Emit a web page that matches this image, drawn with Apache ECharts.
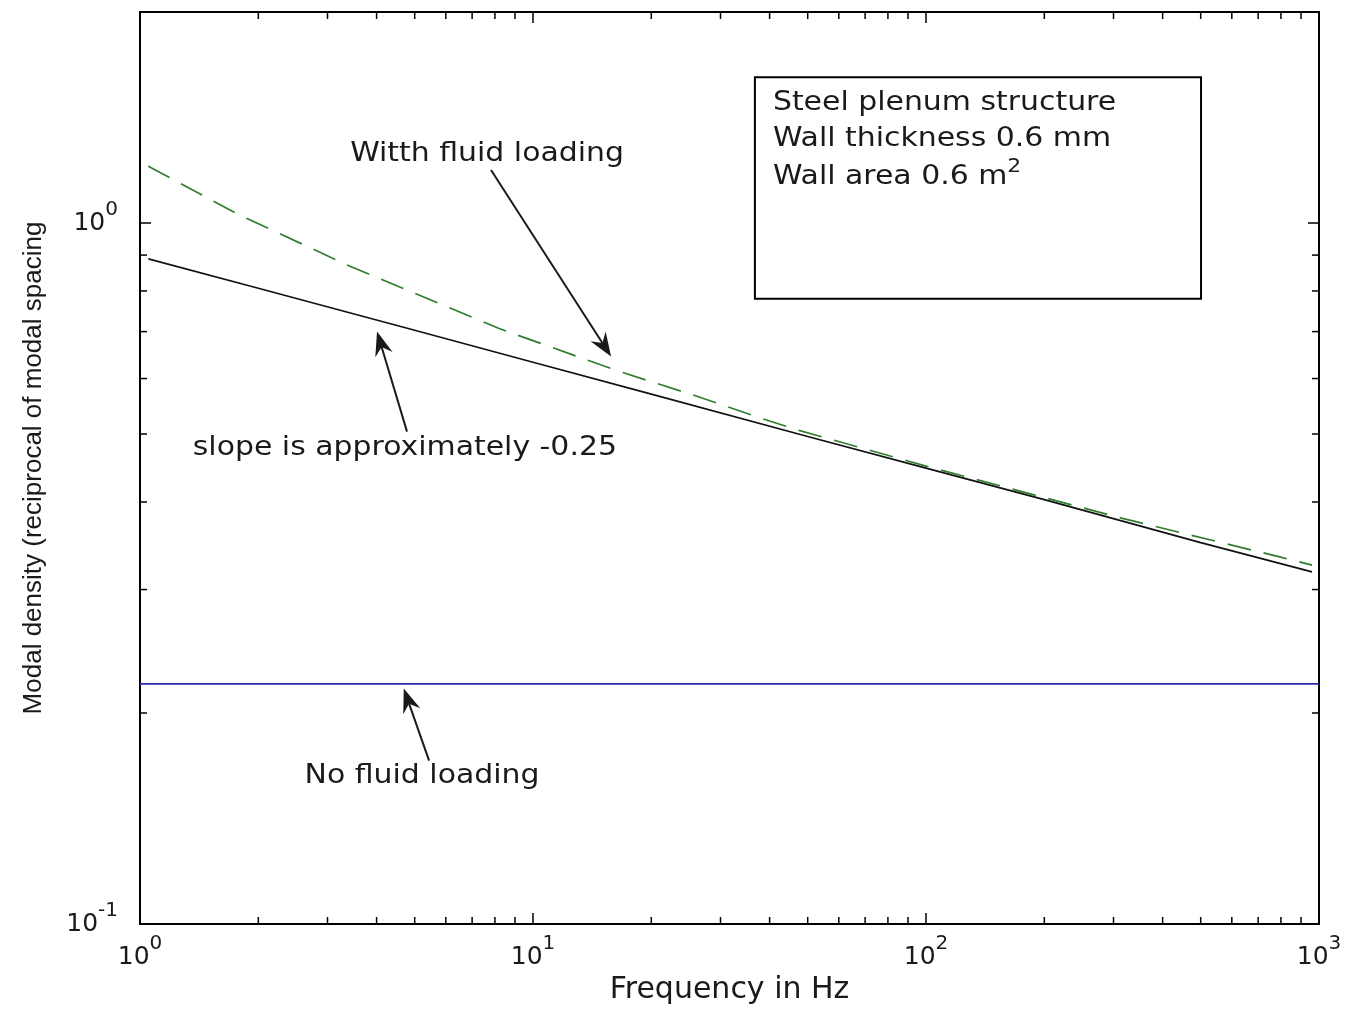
<!DOCTYPE html>
<html>
<head>
<meta charset="utf-8">
<script src="https://cdn.jsdelivr.net/npm/echarts@6/dist/echarts.min.js"></script>
<style>
  html, body { margin: 0; padding: 0; background: #fff; }
  #chart { width: 1351px; height: 1013px; }
</style>
</head>
<body>
<div id="chart"></div>
<script>
// Modal density of a steel plenum wall, log-log.
// Frequencies in Hz, densities in modes per Hz.
const freqNoFluid = [1, 1000];
const densityNoFluid = [0.22, 0.22];

const freqSlope = [1.05, 2, 5, 10, 20, 50, 100, 200, 500, 960];
const densitySlope = [0.889, 0.807, 0.703, 0.633, 0.570, 0.496, 0.447, 0.403, 0.350, 0.318];

const freqFluid = [1.05, 1.77, 3.4, 8.2, 16.6, 25.4, 38.3, 47.5, 100, 316, 794, 960];
const densityFluid = [1.205, 1.030, 0.869, 0.707, 0.614, 0.569, 0.526, 0.506, 0.450, 0.379, 0.334, 0.325];

// Decade tick labels: value and exponent text.
const xDecades = [1, 10, 100, 1000];
const xExponents = ['0', '1', '2', '3'];
const yDecades = [0.1, 1];
const yExponents = ['-1', '0'];

const boxLines = ['Steel plenum structure', 'Wall thickness 0.6 mm', 'Wall area 0.6 m'];
const boxSup = '2';

// Text annotations with arrows, placed in data coordinates.
const notes = [
  { text: 'Witth fluid loading', at: [7.64, 1.254], tail: [7.82, 1.19], tip: [15.8, 0.645] },
  { text: 'slope is approximately -0.25', at: [4.72, 0.477], tail: [4.78, 0.504], tip: [4.01, 0.700] },
  { text: 'No fluid loading', at: [5.22, 0.1624], tail: [5.44, 0.171], tip: [4.69, 0.2167] }
];
const boxCorners = [[36.7, 1.614], [501, 0.78]];

const INK = '#1a1a1a';
const FONT = 'DejaVu Sans';

function pairs(xs, ys) { return xs.map((x, i) => [x, ys[i]]); }

function decadeLabel(decades, exps) {
  return function (v) {
    for (let i = 0; i < decades.length; i++) {
      if (Math.abs(Math.log10(v) - Math.log10(decades[i])) < 1e-6) {
        return '{b|10}{s|' + exps[i] + '}';
      }
    }
    return '';
  };
}

const labelRich = {
  b: { fontSize: 25, lineHeight: 46, fontFamily: FONT, color: INK },
  s: { fontSize: 20, lineHeight: 20, verticalAlign: 'top', fontFamily: FONT, color: INK }
};

const tickStyle = { show: true, inside: true, length: 11, lineStyle: { color: '#000', width: 1.5 } };

const chart = echarts.init(document.getElementById('chart'), null, { renderer: 'canvas' });

chart.setOption({
  animation: false,
  backgroundColor: '#fff',
  grid: { left: 140, right: 32, top: 12, bottom: 89, show: true, borderColor: '#000', borderWidth: 2, backgroundColor: '#fff' },
  xAxis: [
    {
      type: 'log', logBase: 10, min: 1, max: 1000, position: 'bottom',
      name: 'Frequency in Hz', nameLocation: 'middle', nameGap: 51,
      nameTextStyle: { fontSize: 30, fontFamily: FONT, color: INK },
      axisLine: { show: false }, axisTick: tickStyle, splitLine: { show: false },
      axisLabel: { formatter: decadeLabel(xDecades, xExponents), rich: labelRich, margin: 10 }
    },
    {
      type: 'log', logBase: 10, min: 1, max: 1000, position: 'top',
      axisLine: { show: false }, axisTick: tickStyle, splitLine: { show: false }, axisLabel: { show: false }
    }
  ],
  yAxis: [
    {
      type: 'log', logBase: 10, min: 0.1, max: 2, position: 'left',
      name: 'Modal density (reciprocal of modal spacing', nameLocation: 'middle', nameGap: 93,
      nameTextStyle: { fontSize: 26, fontFamily: 'Liberation Sans', color: INK },
      axisLine: { show: false }, axisTick: tickStyle, splitLine: { show: false },
      axisLabel: { formatter: decadeLabel(yDecades, yExponents), rich: labelRich, margin: 22 }
    },
    {
      type: 'log', logBase: 10, min: 0.1, max: 2, position: 'right',
      axisLine: { show: false }, axisTick: tickStyle, splitLine: { show: false }, axisLabel: { show: false }
    }
  ],
  series: [
    {
      name: 'No fluid loading', type: 'line', xAxisIndex: 0, yAxisIndex: 0,
      data: pairs(freqNoFluid, densityNoFluid), symbol: 'none',
      lineStyle: { color: '#2b2ba8', width: 1.8 }
    },
    {
      name: 'In vacuo', type: 'line', xAxisIndex: 0, yAxisIndex: 0,
      data: pairs(freqSlope, densitySlope), symbol: 'none',
      lineStyle: { color: '#111', width: 1.7 }
    },
    {
      name: 'With fluid loading', type: 'line', xAxisIndex: 0, yAxisIndex: 0,
      data: pairs(freqFluid, densityFluid), symbol: 'none',
      lineStyle: { color: '#2f7d2f', width: 1.7, type: [24, 13] }
    }
  ]
});

// Minor ticks, annotations and the info box, positioned through the axes.
function px(pt) { return chart.convertToPixel({ gridIndex: 0 }, pt); }

const gfx = [];
const plotLeft = px([1, 1])[0], plotRight = px([1000, 1])[0];
const plotBottom = px([1, 0.1])[1], plotTop = px([1, 2])[1];
const MINOR = 7;
const minorLine = { stroke: '#000', lineWidth: 1.5 };

[1, 10, 100].forEach(d => {
  for (let m = 2; m <= 9; m++) {
    const x = px([d * m, 1])[0];
    gfx.push({ type: 'line', shape: { x1: x, y1: plotBottom, x2: x, y2: plotBottom - MINOR }, style: minorLine, z: 50 });
    gfx.push({ type: 'line', shape: { x1: x, y1: plotTop, x2: x, y2: plotTop + MINOR }, style: minorLine, z: 50 });
  }
});
[0.1].forEach(d => {
  for (let m = 2; m <= 9; m++) {
    const y = px([1, d * m])[1];
    gfx.push({ type: 'line', shape: { x1: plotLeft, y1: y, x2: plotLeft + MINOR, y2: y }, style: minorLine, z: 50 });
    gfx.push({ type: 'line', shape: { x1: plotRight, y1: y, x2: plotRight - MINOR, y2: y }, style: minorLine, z: 50 });
  }
});

function noteText(text, x, y, align) {
  return {
    type: 'text', x: x, y: y, scaleX: 1.15, z: 60,
    style: { text: text, x: 0, y: 0, align: align, verticalAlign: 'middle', fontSize: 26, fontFamily: FONT, fill: INK }
  };
}

function arrow(tail, tip) {
  const a = px(tail), b = px(tip);
  const dx = b[0] - a[0], dy = b[1] - a[1];
  const len = Math.hypot(dx, dy);
  const ux = dx / len, uy = dy / len, nx = -uy, ny = ux;
  const L = 24, W = 9, N = 16;
  gfx.push({ type: 'line', z: 60, shape: { x1: a[0], y1: a[1], x2: b[0] - ux * N, y2: b[1] - uy * N },
    style: { stroke: INK, lineWidth: 2 } });
  gfx.push({ type: 'polygon', z: 60, shape: { points: [
    [b[0], b[1]],
    [b[0] - ux * L + nx * W, b[1] - uy * L + ny * W],
    [b[0] - ux * N, b[1] - uy * N],
    [b[0] - ux * L - nx * W, b[1] - uy * L - ny * W]
  ] }, style: { fill: INK } });
}

notes.forEach(n => {
  const p = px(n.at);
  gfx.push(noteText(n.text, p[0], p[1], 'center'));
  arrow(n.tail, n.tip);
});

const b0 = px(boxCorners[0]), b1 = px(boxCorners[1]);
gfx.push({ type: 'rect', z: 55, shape: { x: b0[0], y: b0[1], width: b1[0] - b0[0], height: b1[1] - b0[1] },
  style: { fill: '#fff', stroke: '#000', lineWidth: 2 } });
const lineOffsets = [26, 62, 100];
boxLines.forEach((t, i) => {
  const el = noteText(t, b0[0] + 18, b0[1] + lineOffsets[i], 'left');
  if (i === boxLines.length - 1) {
    el.style.text = '{a|' + t + '}{s|' + boxSup + '}';
    el.style.rich = {
      a: { fontSize: 26, lineHeight: 40, fontFamily: FONT, fill: INK },
      s: { fontSize: 19, lineHeight: 20, verticalAlign: 'top', fontFamily: FONT, fill: INK }
    };
  }
  gfx.push(el);
});

chart.setOption({ graphic: gfx });
</script>
</body>
</html>
